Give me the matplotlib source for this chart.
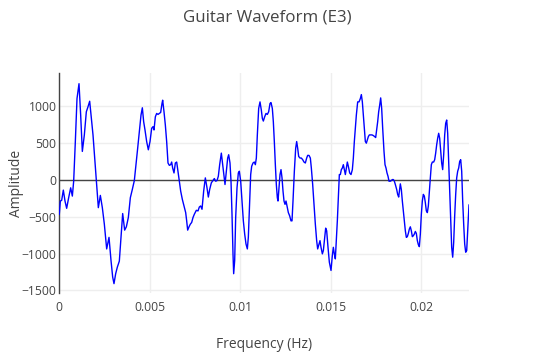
import matplotlib
matplotlib.use("Agg")
import matplotlib.pyplot as plt
import numpy as np

# time in milliseconds, amplitude values
time_ms = [
    0.000, 0.057, 0.131, 0.223, 0.315, 0.407, 0.518, 0.629, 0.721, 0.795,
    0.887, 0.979, 1.090, 1.182, 1.274, 1.385, 1.495, 1.587, 1.680, 1.772,
    1.864, 1.956, 2.048, 2.159, 2.270, 2.380, 2.491, 2.620, 2.749, 2.860,
    2.952, 3.025, 3.118, 3.210, 3.320, 3.413, 3.505, 3.615, 3.708, 3.818,
    3.929, 4.039, 4.150, 4.242, 4.335, 4.427, 4.519, 4.593, 4.666, 4.740,
    4.832, 4.924, 5.017, 5.109, 5.183, 5.238, 5.312, 5.385, 5.459, 5.533,
    5.607, 5.680, 5.717, 5.791, 5.865, 5.938, 6.012, 6.086, 6.160, 6.215,
    6.270, 6.344, 6.418, 6.492, 6.565, 6.639, 6.713, 6.805, 6.897, 6.990,
    7.045, 7.100, 7.174, 7.247, 7.321, 7.395, 7.469, 7.579, 7.672, 7.745,
    7.819, 7.893, 7.985, 8.077, 8.169, 8.243, 8.317, 8.409, 8.501, 8.575,
    8.649, 8.723, 8.796, 8.870, 8.962, 9.036, 9.110, 9.165, 9.239, 9.313,
    9.368, 9.441, 9.497, 9.552, 9.607, 9.644, 9.700, 9.755, 9.829, 9.902,
    9.958, 10.032, 10.105, 10.179, 10.253, 10.326, 10.400, 10.455, 10.529, 10.585,
    10.640, 10.714, 10.787, 10.843, 10.898, 10.953, 11.027, 11.101, 11.174, 11.230,
    11.285, 11.359, 11.433, 11.506, 11.580, 11.654, 11.709, 11.783, 11.838, 11.893,
    11.949, 12.004, 12.059, 12.096, 12.152, 12.207, 12.262, 12.318, 12.373, 12.428,
    12.484, 12.539, 12.594, 12.668, 12.742, 12.815, 12.871, 12.926, 13.000, 13.074,
    13.129, 13.184, 13.240, 13.313, 13.387, 13.461, 13.534, 13.608, 13.682, 13.737,
    13.811, 13.885, 13.940, 14.014, 14.088, 14.161, 14.235, 14.290, 14.364, 14.419,
    14.475, 14.549, 14.604, 14.659, 14.733, 14.788, 14.862, 14.936, 15.028, 15.101,
    15.157, 15.212, 15.267, 15.323, 15.378, 15.433, 15.489, 15.544, 15.599, 15.655,
    15.710, 15.765, 15.821, 15.876, 15.931, 15.987, 16.060, 16.134, 16.208, 16.263,
    16.318, 16.374, 16.429, 16.503, 16.577, 16.650, 16.706, 16.761, 16.816, 16.872,
    16.927, 16.982, 17.038, 17.093, 17.148, 17.222, 17.296, 17.369, 17.443, 17.498,
    17.554, 17.609, 17.664, 17.720, 17.775, 17.830, 17.886, 17.959, 18.015, 18.070,
    18.125, 18.181, 18.236, 18.310, 18.365, 18.420, 18.476, 18.531, 18.586, 18.660,
    18.715, 18.771, 18.862, 18.917, 18.973, 19.028, 19.083, 19.139, 19.194, 19.249,
    19.305, 19.360, 19.415, 19.471, 19.526, 19.581, 19.637, 19.692, 19.747, 19.803,
    19.858, 19.913, 19.969, 20.024, 20.079, 20.135, 20.190, 20.245, 20.301, 20.356,
    20.411, 20.467, 20.522, 20.577, 20.633, 20.706, 20.762, 20.817, 20.872, 20.928,
    20.983, 21.038, 21.094, 21.149, 21.204, 21.260, 21.315, 21.370, 21.426, 21.481,
    21.536, 21.592, 21.647, 21.702, 21.758, 21.813, 21.868, 21.924, 21.979, 22.034,
    22.090, 22.145, 22.200, 22.256, 22.311, 22.366, 22.422, 22.477, 22.532, 22.588,
    22.660,
]

amplitude = [
    -466, -287, -278, -139, -287, -386, -242, -108, -220, -18,
    520, 1103, 1305, 879, 386, 610, 924, 991, 1067, 834,
    610, 296, -18, -377, -211, -377, -601, -937, -780, -1094,
    -1318, -1408, -1273, -1184, -1103, -780, -457, -682, -637, -511,
    -242, -130, -9, 206, 430, 655, 879, 978, 789, 677,
    520, 408, 520, 700, 722, 677, 856, 901, 888, 901,
    915, 1036, 1081, 924, 744, 520, 229, 197, 206, 242,
    161, 94, 229, 242, 117, -18, -152, -265, -354, -444,
    -556, -682, -637, -601, -578, -511, -466, -413, -421, -368,
    -354, -399, -152, 27, -108, -233, -130, -40, -9, 18,
    -18, -9, 49, 206, 363, 206, 49, -63, 117, 296,
    341, 229, -18, -466, -1004, -1273, -1094, -511, -108, 94,
    117, -18, -287, -556, -735, -870, -937, -780, -287, 72,
    184, 229, 242, 206, 296, 610, 969, 1058, 946, 834,
    798, 856, 901, 888, 924, 1036, 1049, 969, 789, 520,
    206, -63, -242, -287, -108, 72, 139, 27, -152, -287,
    -332, -287, -354, -444, -489, -556, -556, -287, 117, 430,
    520, 430, 318, 296, 296, 274, 242, 229, 296, 332,
    332, 296, 161, -63, -332, -601, -825, -937, -870, -825,
    -915, -1004, -960, -825, -655, -691, -915, -1117, -1229, -1027,
    -915, -1004, -1072, -825, -556, -242, 72, 72, 139, 161,
    206, 139, 72, 161, 242, 184, 94, 72, 139, 296,
    520, 700, 879, 1058, 1058, 1103, 1157, 1058, 879, 700,
    520, 498, 543, 587, 610, 610, 610, 601, 587, 574,
    677, 789, 924, 1013, 1112, 969, 700, 386, 206, 161,
    94, 49, -18, -18, -9, 4, 4, -18, -63, -130,
    -197, -233, -54, -130, -287, -421, -556, -691, -780, -771,
    -726, -668, -637, -691, -771, -758, -735, -700, -726, -825,
    -879, -906, -735, -466, -287, -197, -220, -309, -421, -444,
    -354, -152, 27, 206, 242, 242, 274, 363, 475, 565,
    632, 565, 386, 229, 139, 341, 610, 767, 812, 632,
    251, -152, -556, -915, -1049, -847, -489, -197, 27, 117,
    161, 251, 274, 117, -287, -601, -870, -982, -960, -691,
    -341,
]

x_ticks = [0, 0.005, 0.01, 0.015, 0.02]
x_tick_labels = ["0", "0.005", "0.01", "0.015", "0.02"]
y_ticks = [-1500, -1000, -500, 0, 500, 1000]
y_tick_labels = ["\u22121500", "\u22121000", "\u2212500", "0", "500", "1000"]

title = "Guitar Waveform (E3)"
x_label = "Frequency (Hz)"
y_label = "Amplitude"

plt.rcParams['font.family'] = ['Open Sans', 'DejaVu Sans']
TEXT = "#444444"

W, H = 535, 355
fig = plt.figure(figsize=(W / 100, H / 100), dpi=100)
left, right, top, bottom = 59.3, 469, 73, 293
ax = fig.add_axes([left / W, 1 - bottom / H, (right - left) / W, (bottom - top) / H])

t = np.array(time_ms) / 1000.0
ax.plot(t, amplitude, color="#0000ff", lw=1.0, zorder=3)

ax.set_xlim(0, t[-1])
ax.set_ylim(-1535, 1450)

ax.set_xticks(x_ticks)
ax.set_xticklabels(x_tick_labels)
ax.set_yticks(y_ticks)
ax.set_yticklabels(y_tick_labels)
ax.tick_params(axis="both", length=0, labelsize=8.7, colors=TEXT)
ax.tick_params(axis="x", pad=6)
ax.tick_params(axis="y", pad=2)

ax.grid(True, color="#eeeeee", lw=1.0, zorder=0)
ax.set_axisbelow(True)
ax.axhline(0, color=TEXT, lw=1.0, zorder=2)

for side in ["top", "right", "bottom"]:
    ax.spines[side].set_visible(False)
ax.spines["left"].set_color(TEXT)
ax.spines["left"].set_linewidth(1.0)

fig.text(0.5, 1 - 18 / H, title, ha="center", va="center", fontsize=12.2, color=TEXT)
fig.text(264 / W, 1 - 344 / H, x_label, ha="center", va="center", fontsize=10, color=TEXT)
fig.text(17 / W, 1 - 183 / H, y_label, ha="center", va="center", rotation=90, fontsize=10, color=TEXT)

fig.savefig("out.png", dpi=100)
